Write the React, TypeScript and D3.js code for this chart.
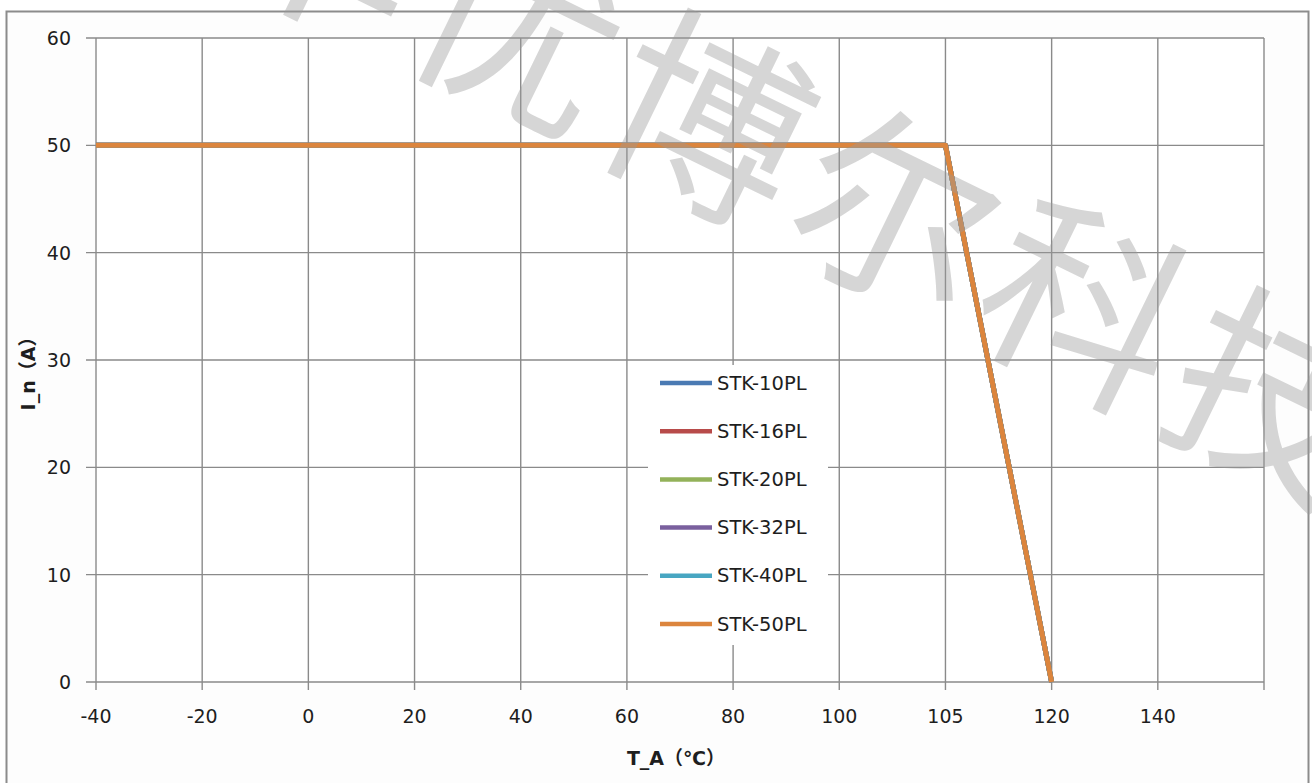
import * as d3 from "d3"

// x categories (Excel category axis, equally spaced)
const categories = ["-40", "-20", "0", "20", "40", "60", "80", "100", "105", "120", "140"]
const yTicks = [0, 10, 20, 30, 40, 50, 60]

// rated current I_n (A) per category, one array per model
const stk10pl = [50, 50, 50, 50, 50, 50, 50, 50, 50, 0, null]
const stk16pl = [50, 50, 50, 50, 50, 50, 50, 50, 50, 0, null]
const stk20pl = [50, 50, 50, 50, 50, 50, 50, 50, 50, 0, null]
const stk32pl = [50, 50, 50, 50, 50, 50, 50, 50, 50, 0, null]
const stk40pl = [50, 50, 50, 50, 50, 50, 50, 50, 50, 0, null]
const stk50pl = [50, 50, 50, 50, 50, 50, 50, 50, 50, 0, null]

const seriesNames = ["STK-10PL", "STK-16PL", "STK-20PL", "STK-32PL", "STK-40PL", "STK-50PL"]
const seriesValues = [stk10pl, stk16pl, stk20pl, stk32pl, stk40pl, stk50pl]
const seriesColors = ["#4A7AB3", "#B84B4A", "#93B25A", "#7A609E", "#48A6C2", "#DC853D"]

const W = 1312
const H = 783
const plot = { left: 96, right: 1264, top: 38, bottom: 682 }
const font = "'DejaVu Sans', 'Noto Sans CJK SC', sans-serif"

export default function App() {
  // extra blank slot so the plot ends one step after 140
  const x = d3
    .scalePoint<string>()
    .domain([...categories, "__end"])
    .range([plot.left, plot.right])
  const y = d3.scaleLinear().domain([0, 60]).range([plot.bottom, plot.top])

  const line = d3
    .line<number | null>()
    .defined((d) => d != null)
    .x((_, i) => x(categories[i])!)
    .y((d) => y(d as number))

  const gridX = x.domain()
  const gridColor = "#8a8a8a"

  // legend layout
  const legendTop = 365
  const legendStep = 48.2
  const legendX = 648

  return (
    <svg
      width={W}
      height={H}
      style={{ position: "fixed", left: 0, top: 0, background: "#fff" }}
      fontFamily={font}
    >
      <rect x={0} y={0} width={W} height={H} fill="#fff" />
      {/* chart frame */}
      <rect x={6.5} y={11.5} width={1302} height={H + 10} fill="#fdfdfd" stroke="#8c8c8c" strokeWidth={2} />
      <rect
        x={plot.left}
        y={plot.top}
        width={plot.right - plot.left}
        height={plot.bottom - plot.top}
        fill="#fff"
      />

      {/* horizontal gridlines + y ticks */}
      {yTicks.map((t) => (
        <g key={"y" + t}>
          <line x1={plot.left - 10} x2={plot.right} y1={y(t)} y2={y(t)} stroke={gridColor} strokeWidth={1.4} />
          <text
            x={71}
            y={y(t)}
            textAnchor="end"
            dominantBaseline="central"
            fontSize={19}
            fill="#1e1e1e"
          >
            {t}
          </text>
        </g>
      ))}

      {/* vertical gridlines + x ticks */}
      {gridX.map((c) => (
        <line
          key={"x" + c}
          x1={x(c)}
          x2={x(c)}
          y1={plot.top}
          y2={plot.bottom + 8}
          stroke={gridColor}
          strokeWidth={1.4}
        />
      ))}
      {categories.map((c) => (
        <text
          key={"xl" + c}
          x={x(c)}
          y={716}
          textAnchor="middle"
          dominantBaseline="central"
          fontSize={19}
          fill="#1e1e1e"
        >
          {c}
        </text>
      ))}

      {/* axis titles */}
      <text x={676} y={758} textAnchor="middle" dominantBaseline="central" fontSize={19} fontWeight="bold" fill="#1e1e1e">
        T_A（℃）
      </text>
      <text
        transform="translate(28,369) rotate(-90)"
        textAnchor="middle"
        dominantBaseline="central"
        fontSize={19}
        fontWeight="bold"
        fill="#1e1e1e"
      >
        I_n（A）
      </text>

      {/* legend */}
      <rect x={legendX} y={legendTop} width={180} height={280} fill="#fff" />
      {seriesNames.map((name, i) => {
        const ly = legendTop + 18 + i * legendStep
        return (
          <g key={name}>
            <line x1={660} x2={712} y1={ly} y2={ly} stroke={seriesColors[i]} strokeWidth={4.5} />
            <text x={717} y={ly} dominantBaseline="central" fontSize={19.5} fill="#1e1e1e">
              {name}
            </text>
          </g>
        )
      })}

      {/* series (all identical, last drawn on top) */}
      {seriesValues.map((vals, i) => (
        <path
          key={seriesNames[i]}
          d={line(vals) ?? ""}
          fill="none"
          stroke={seriesColors[i]}
          strokeWidth={5}
          strokeLinejoin="round"
        />
      ))}

      {/* watermark */}
      <text
        transform="translate(812,158) rotate(26)"
        textAnchor="middle"
        dominantBaseline="central"
        fontSize={200}
        letterSpacing={10}
        fontFamily="'Noto Sans CJK SC', sans-serif"
        fill="#9a9a9a"
        opacity={0.4}
      >
        华优博尔科技
      </text>
    </svg>
  )
}
